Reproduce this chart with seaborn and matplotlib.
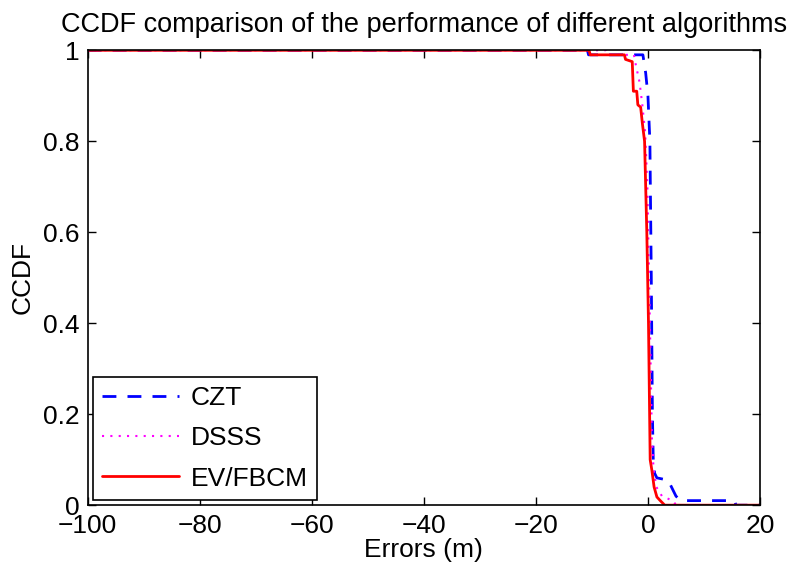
import matplotlib
matplotlib.use("Agg")
import matplotlib.pyplot as plt
import seaborn as sns

sns.set_style("ticks")
plt.rcParams['font.family'] = ['Liberation Sans', 'DejaVu Sans']
plt.rcParams['text.color'] = 'black'
plt.rcParams['axes.labelcolor'] = 'black'

# CCDF breakpoints
czt_x = [-100, -10.8, -10.6, -0.9, -0.4, 0.0, 0.35, 0.6, 0.8, 0.95, 1.2, 1.6, 3.6, 4.0, 5.0, 5.8, 15.5, 15.7, 20]
czt_y = [1, 1, 0.99, 0.99, 0.95, 0.90, 0.80, 0.50, 0.20, 0.10, 0.07, 0.06, 0.055, 0.045, 0.02, 0.01, 0.01, 0, 0]

dsss_x = [-100, -7.5, -7.3, -2.5, -2.2, -1.5, -1.0, -0.5, -0.1, 0.2, 0.5, 0.7, 1.0, 1.5, 2.5, 4.0, 4.5, 5.0, 20]
dsss_y = [1, 1, 0.99, 0.99, 0.97, 0.93, 0.88, 0.82, 0.70, 0.50, 0.30, 0.15, 0.08, 0.04, 0.02, 0.012, 0.01, 0, 0]

ev_x = [-100, -10.5, -10.3, -4.2, -4.0, -2.8, -2.6, -2.0, -1.8, -1.3, -1.0, -0.6, -0.2, 0.1, 0.3, 0.4, 0.7, 1.1, 1.6, 2.2, 3.0, 20]
ev_y = [1, 1, 0.99, 0.99, 0.98, 0.975, 0.91, 0.91, 0.88, 0.875, 0.84, 0.80, 0.60, 0.40, 0.20, 0.10, 0.077, 0.04, 0.018, 0.01, 0, 0]

x_ticks = [-100, -80, -60, -40, -20, 0, 20]
y_ticks = [0, 0.2, 0.4, 0.6, 0.8, 1]

fig = plt.figure(figsize=(7.9, 5.78), dpi=100)
ax = fig.add_axes([0.111, 0.126, 0.851, 0.787])

sns.lineplot(x=czt_x, y=czt_y, sort=False, ax=ax, color="blue", lw=2, label="CZT")
ax.lines[-1].set_linestyle((0, (5, 4)))
sns.lineplot(x=dsss_x, y=dsss_y, sort=False, ax=ax, color="magenta", lw=1.5, label="DSSS")
ax.lines[-1].set_linestyle((0, (1, 3)))
sns.lineplot(x=ev_x, y=ev_y, sort=False, ax=ax, color="red", lw=2, label="EV/FBCM")

ax.set_xlim(-100, 20)
ax.set_ylim(0, 1)
ax.set_xticks(x_ticks)
ax.set_xticklabels(["\u2212100", "\u221280", "\u221260", "\u221240", "\u221220", "0", "20"])
ax.set_yticks(y_ticks)
ax.set_yticklabels(["0", "0.2", "0.4", "0.6", "0.8", "1"])
ax.tick_params(direction="in", top=True, right=True, labelsize=19, length=6, width=1,
               colors="black")
ax.tick_params(axis="x", pad=6)
ax.tick_params(axis="y", pad=6)
for s in ax.spines.values():
    s.set_visible(True)
    s.set_linewidth(1.2)
    s.set_color("black")

ax.set_xlabel("Errors (m)", fontsize=19, labelpad=0)
ax.set_ylabel("CCDF", fontsize=19, labelpad=6)
ax.set_title("CCDF comparison of the performance of different algorithms", fontsize=19.5, pad=13)

leg = ax.legend(loc="lower left", fontsize=19, handlelength=2.9, frameon=True, fancybox=False,
                borderaxespad=0.2, labelspacing=0.62, handletextpad=0.45, borderpad=0.35)
leg.get_frame().set_edgecolor("black")
leg.get_frame().set_linewidth(1.2)
leg.get_frame().set_alpha(1)

fig.savefig("out.png", dpi=100)
